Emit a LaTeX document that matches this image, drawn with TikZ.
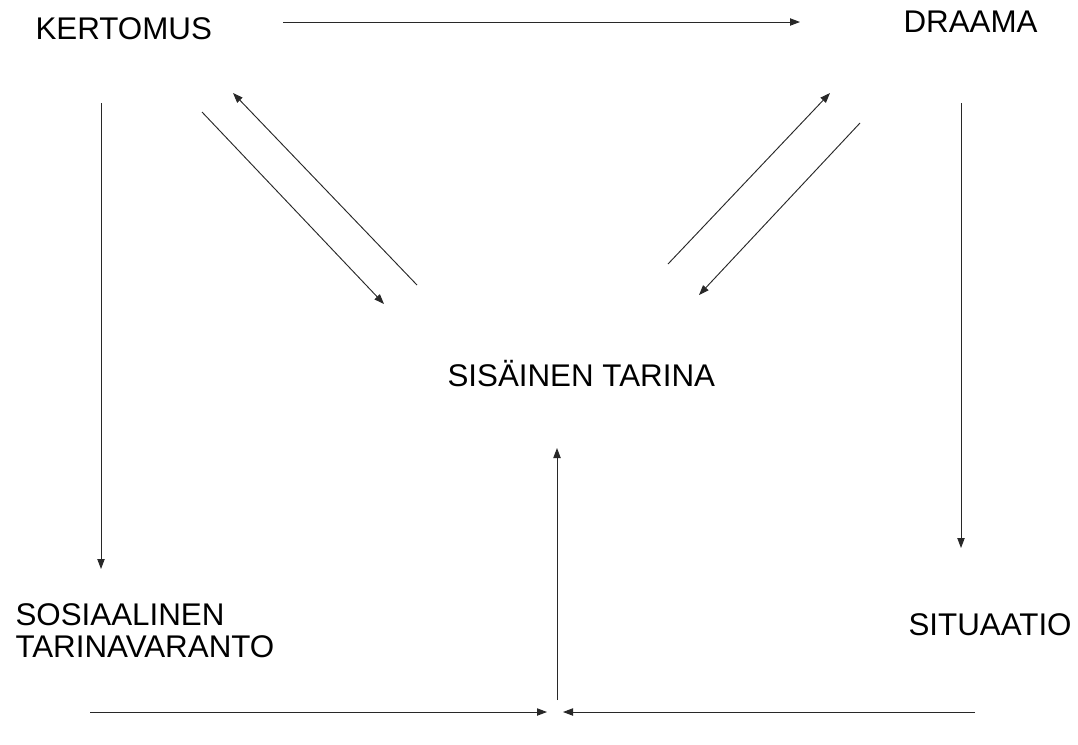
\documentclass[tikz,border=0pt]{standalone}
\usepackage{fontspec}
\setmainfont{Liberation Sans}
\usetikzlibrary{arrows.meta}

\tikzset{every picture/.style={line width=0.75pt}}
\tikzset{
  arr/.style={draw={rgb,255:red,40;green,40;blue,40}, line width=0.7pt, -{Triangle[length=7.5pt,width=5.5pt]}},
  lbl/.style={inner sep=0pt, font=\fontsize{23.5}{23.5}\selectfont}
}

\begin{document}
\begin{tikzpicture}[x=0.75pt,y=0.75pt,yscale=-1,xscale=1]
    \useasboundingbox (0,0) rectangle (1078,744);

    % Text Node
    \node [lbl, anchor=base west] (kertomus) at (35,39) {KERTOMUS};
    % Text Node
    \node [lbl, anchor=base west] (draama) at (903,32) {DRAAMA};
    % Text Node
    \node [lbl, anchor=base west] (sisainen) at (447,386) {SIS\"AINEN TARINA};
    % Text Node
    \node [lbl, anchor=base west, align=left] (sosiaalinen) at (15,657) {SOSIAALINEN\\TARINAVARANTO};
    % Text Node
    \node [lbl, anchor=base west] (situaatio) at (908,635) {SITUAATIO};

    % arrow ends
    \coordinate (kd1) at (283,22);   \coordinate (kd2) at (800,22);
    \coordinate (ks1) at (101,103);  \coordinate (ks2) at (101,569);
    \coordinate (ds1) at (961,103);  \coordinate (ds2) at (961,548);
    \coordinate (ki1) at (202,112);  \coordinate (ki2) at (384,304);
    \coordinate (ik1) at (417,285);  \coordinate (ik2) at (233,93);
    \coordinate (id1) at (668,264);  \coordinate (id2) at (830,93);
    \coordinate (di1) at (860,123);  \coordinate (di2) at (699,295);
    \coordinate (bi1) at (557,700);  \coordinate (bi2) at (557,448);
    \coordinate (bl1) at (90,712);   \coordinate (bl2) at (547,712);
    \coordinate (br1) at (975,712);  \coordinate (br2) at (563,712);

    %Straight Lines
    \draw [arr] (kd1) -- (kd2);
    \draw [arr] (ks1) -- (ks2);
    \draw [arr] (ds1) -- (ds2);
    %Straight Lines
    \draw [arr] (ki1) -- (ki2);
    \draw [arr] (ik1) -- (ik2);
    \draw [arr] (id1) -- (id2);
    \draw [arr] (di1) -- (di2);
    %Straight Lines
    \draw [arr] (bi1) -- (bi2);
    \draw [arr] (bl1) -- (bl2);
    \draw [arr] (br1) -- (br2);

\end{tikzpicture}
\end{document}
